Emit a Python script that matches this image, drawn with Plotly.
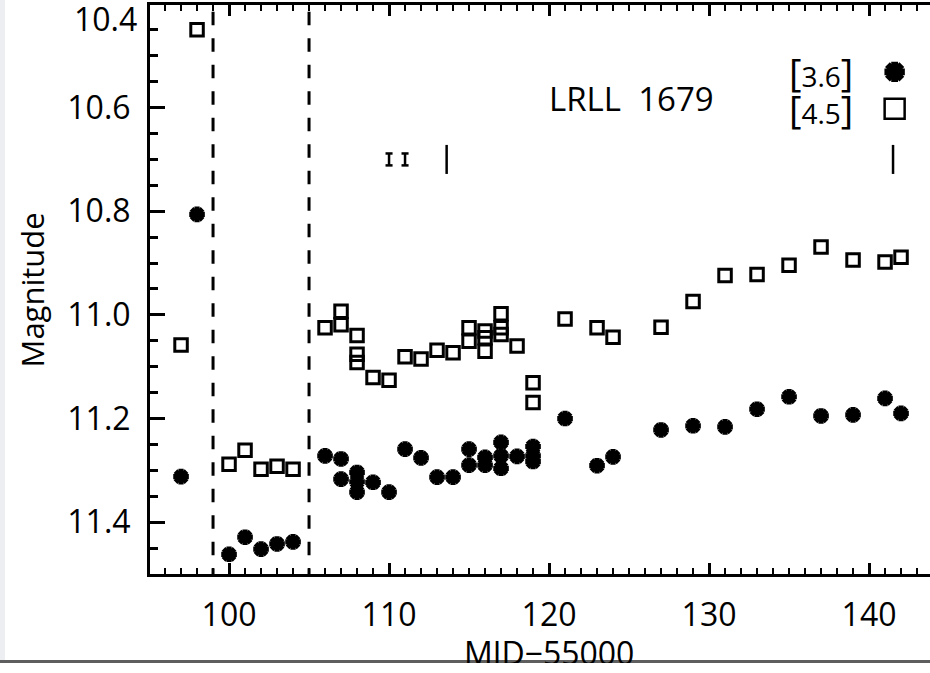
import plotly.graph_objects as go

# ---- data ----
star_x = [97, 98, 100, 101, 102, 103, 104, 106, 107, 107, 108, 108, 108, 109, 110, 111, 112, 113, 114,
          115, 115, 116, 116, 117, 117, 117, 118, 119, 119, 119, 121, 123, 124,
          127, 129, 131, 133, 135, 137, 139, 141, 142]
star_y = [11.312, 10.806, 11.462, 11.429, 11.452, 11.442, 11.438, 11.272, 11.278, 11.317, 11.304, 11.322,
          11.342, 11.323, 11.342, 11.259, 11.276, 11.313, 11.313, 11.259, 11.290, 11.275, 11.290, 11.246,
          11.272, 11.296, 11.273, 11.254, 11.272, 11.283, 11.200, 11.291, 11.274,
          11.222, 11.214, 11.216, 11.182, 11.158, 11.195, 11.193, 11.161, 11.190]

sq_x = [97, 98, 100, 101, 102, 103, 104, 106, 107, 107, 108, 108, 108, 109, 110, 111, 112, 113, 114,
        115, 115, 116, 116, 116, 117, 117, 117, 118, 119, 119, 121, 123, 124,
        127, 129, 131, 133, 135, 137, 139, 141, 142]
sq_y = [11.058, 10.450, 11.288, 11.261, 11.298, 11.292, 11.298, 11.025, 10.993, 11.019, 11.040, 11.076,
        11.092, 11.121, 11.126, 11.081, 11.085, 11.068, 11.073, 11.025, 11.051, 11.031, 11.044, 11.070,
        10.998, 11.025, 11.038, 11.060, 11.131, 11.169, 11.008, 11.025, 11.043,
        11.024, 10.974, 10.924, 10.922, 10.904, 10.869, 10.894, 10.898, 10.889]

err_small_x = [110.0, 111.0]
err_small_y = [10.70, 10.70]
err_small = [0.0115, 0.0115]
err_big_x = [113.6, 141.5]
err_big_y = [10.70, 10.70]
err_big = [0.028, 0.028]

dashed_x = [99.0, 105.0]

top_label = "10.4"
object_name = "LRLL  1679"
legend_labels = ["[3.6]", "[4.5]"]
legend_y = [10.531, 10.602]
x_title = "MJD\u221255000"
y_title = "Magnitude"

X_RANGE = [95.06, 143.81]
Y_RANGE = [11.5, 10.402]
CAP_HALF = 0.22      # half width of the small error-bar caps (x units)

W, H = 930, 663
ML, MR, MT, MB = 150, 0, 5, 89
PH = H - MT - MB
PW = W - ML - MR


def py(pix):              # page pixel row -> paper y
    return (H - MB - pix) / PH


def px(pix):              # page pixel column -> paper x
    return (pix - ML) / PW


def add_star(fig, xs, ys, size):
    # thick asterisk = filled plus + filled x overlaid
    fig.add_trace(go.Scatter(x=xs, y=ys, mode="markers", showlegend=False, hoverinfo="skip",
                             marker=dict(symbol="cross", size=size, color="black", line=dict(width=0))))
    fig.add_trace(go.Scatter(x=xs, y=ys, mode="markers", showlegend=False,
                             marker=dict(symbol="x", size=size, color="black", line=dict(width=0))))


fig = go.Figure()

fig.add_trace(go.Scatter(
    x=sq_x, y=sq_y, mode="markers",
    marker=dict(symbol="square-open", size=12.5, color="black", line=dict(width=3, color="black")),
    showlegend=False))
add_star(fig, star_x, star_y, 13)

# error-bar indicators built from the arrays
ebx, eby = [], []
for xs, ys, es in ((err_small_x, err_small_y, err_small), (err_big_x, err_big_y, err_big)):
    for x, y, e in zip(xs, ys, es):
        ebx += [x, x, None]
        eby += [y - e, y + e, None]
for x, y, e in zip(err_small_x, err_small_y, err_small):
    for yy in (y - e, y + e):
        ebx += [x - CAP_HALF, x + CAP_HALF, None]
        eby += [yy, yy, None]
fig.add_trace(go.Scatter(x=ebx, y=eby, mode="lines", line=dict(color="black", width=2.5),
                         showlegend=False, hoverinfo="skip"))

# legend symbols
add_star(fig, [141.6], [legend_y[0]], 17)
fig.add_trace(go.Scatter(
    x=[141.6], y=[legend_y[1]], mode="markers",
    marker=dict(symbol="square-open", size=20, color="black", line=dict(width=2.5, color="black")),
    showlegend=False))

# dashed vertical lines
for xv in dashed_x:
    fig.add_shape(type="line", xref="x", yref="y", x0=xv, x1=xv, y0=10.415, y1=11.5,
                  line=dict(color="black", width=3, dash="13.5px,13px"))

# page decorations: left light strip and bottom gray line
fig.add_shape(type="rect", xref="paper", yref="paper",
              x0=px(0), x1=px(5), y0=py(660), y1=py(0),
              line=dict(width=0), fillcolor="#eceef1", layer="above")
fig.add_shape(type="rect", xref="paper", yref="paper",
              x0=px(0), x1=px(930), y0=py(663.5), y1=py(660),
              line=dict(width=0), fillcolor="#5e5e5e", layer="above")

BR = "<span style='font-size:38px'>%s</span>"
annotations = [
    dict(text=top_label, xref="paper", x=0, xanchor="right", xshift=-11,
         yref="y domain", y=1, yanchor="middle", yshift=-13, showarrow=False,
         font=dict(size=32, color="black")),
    dict(text=y_title, xref="paper", x=px(31), xanchor="center",
         yref="y domain", y=0.5, yanchor="middle", textangle=-90, showarrow=False,
         font=dict(size=31, color="black")),
    dict(text=x_title, xref="x", x=120, xanchor="center",
         yref="paper", y=py(652.5), yanchor="middle", showarrow=False,
         font=dict(size=32, color="black")),
    dict(text=object_name, xref="x", x=119.9, xanchor="left", yref="y", y=10.583,
         yanchor="middle", showarrow=False, font=dict(size=33, color="black")),
]
for lab, ly in zip(legend_labels, legend_y):
    txt = (BR % lab[0]) + lab[1:-1] + (BR % lab[-1])
    annotations.append(dict(text=txt, xref="x", x=137.0, xanchor="center", yref="y", y=ly,
                            yanchor="middle", showarrow=False,
                            font=dict(size=28, color="black")))

fig.update_layout(
    width=W, height=H,
    margin=dict(l=ML, r=MR, t=MT, b=MB),
    paper_bgcolor="white", plot_bgcolor="white",
    showlegend=False,
    annotations=annotations,
    xaxis=dict(
        range=X_RANGE, domain=[0, 1], anchor="y",
        showgrid=False, zeroline=False,
        showline=True, linewidth=3, linecolor="black", mirror="ticks",
        tickmode="linear", tick0=0, dtick=10,
        ticks="inside", ticklen=11, tickwidth=2.5, tickcolor="black",
        tickfont=dict(size=32, color="black"),
        ticklabelstandoff=11,
        minor=dict(tickmode="linear", dtick=1, tick0=0, ticks="inside", ticklen=6, tickwidth=2,
                   tickcolor="black", showgrid=False),
    ),
    yaxis=dict(
        range=Y_RANGE, domain=[0, 1], anchor="x",
        showgrid=False, zeroline=False,
        showline=True, linewidth=3, linecolor="black", mirror=False,
        tickmode="linear", tick0=10.4, dtick=0.2, tickformat=".1f",
        ticks="inside", ticklen=15, tickwidth=3, tickcolor="black",
        tickfont=dict(size=32, color="black"),
        ticklabelstandoff=10,
        minor=dict(tickmode="linear", dtick=0.05, tick0=10.4, ticks="inside", ticklen=8, tickwidth=3,
                   tickcolor="black", showgrid=False),
    ),
)

fig.write_html("out.html")
